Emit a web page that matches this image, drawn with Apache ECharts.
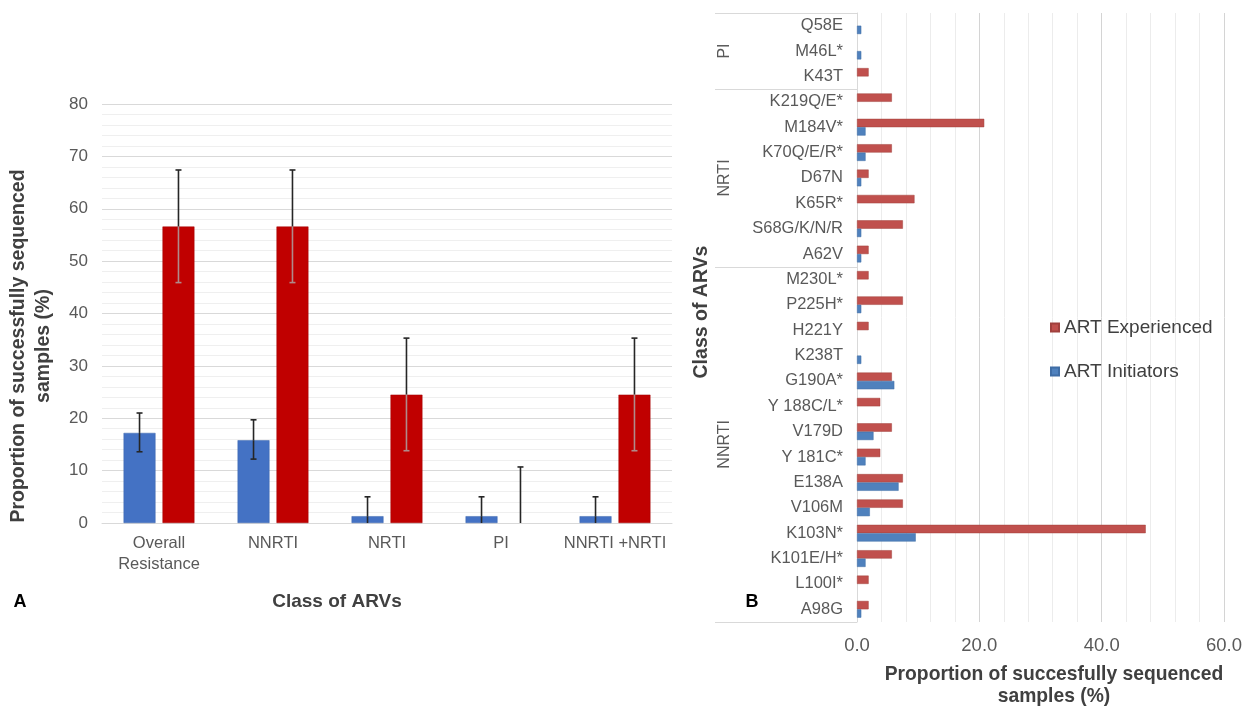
<!DOCTYPE html>
<html>
<head>
<meta charset="utf-8">
<script src="https://cdn.jsdelivr.net/npm/echarts@6/dist/echarts.min.js"></script>
<style>
html, body { margin: 0; padding: 0; background: #fff; }
#chart { width: 1250px; height: 706px; }
</style>
</head>
<body>
<div id="chart"></div>
<script>
// ---- panel A: resistance by drug class ----
const classes = ['Overall\nResistance', 'NNRTI', 'NRTI', 'PI', 'NNRTI +NRTI'];
const initiatorsA = [17.2, 15.8, 1.3, 1.3, 1.3];
const initiatorsLow = [13.6, 12.2, 0, 0, 0];
const initiatorsHigh = [21.0, 19.7, 5.0, 5.0, 5.0];
const experiencedA = [56.6, 56.6, 24.5, 0, 24.5];
const experiencedLow = [45.9, 45.9, 13.8, 0, 13.8];
const experiencedHigh = [67.4, 67.4, 35.3, 10.7, 35.3];

// ---- panel B: individual mutations (top to bottom) ----
const mutations = ['Q58E', 'M46L*', 'K43T', 'K219Q/E*', 'M184V*', 'K70Q/E/R*', 'D67N', 'K65R*',
  'S68G/K/N/R', 'A62V', 'M230L*', 'P225H*', 'H221Y', 'K238T', 'G190A*', 'Y 188C/L*', 'V179D',
  'Y 181C*', 'E138A', 'V106M', 'K103N*', 'K101E/H*', 'L100I*', 'A98G'];
const experiencedB = [0, 0, 1.9, 5.7, 20.8, 5.7, 1.9, 9.4, 7.5, 1.9, 1.9, 7.5, 1.9, 0, 5.7, 3.8,
  5.7, 3.8, 7.5, 7.5, 47.2, 5.7, 1.9, 1.9];
const initiatorsB = [0.7, 0.7, 0, 0, 1.4, 1.4, 0.7, 0, 0.7, 0.7, 0, 0.7, 0, 0.7, 6.1, 0,
  2.7, 1.4, 6.8, 2.1, 9.6, 1.4, 0, 0.7];
const groups = [['PI', 0, 2], ['NRTI', 3, 9], ['NNRTI', 10, 23]];

const FONT = '"Liberation Sans", Arial, sans-serif';
const BAR_W = 0.28, BAR_GAP = 0.22;

// zero bars are left out so they leave no sliver
const noZero = arr => arr.map(v => (v === 0 ? '-' : v));

const chart = echarts.init(document.getElementById('chart'));

// error bars drawn on top of the panel A bars
function errorBars(vals, low, high, side, lowColor) {
  return {
    type: 'custom',
    xAxisIndex: 0,
    yAxisIndex: 0,
    silent: true,
    z: 5,
    encode: { x: 0, y: [1, 2, 3] },
    data: vals.map((v, i) => [i, low[i], high[i], v]),
    renderItem: function (params, api) {
      const band = api.size([1, 0])[0];
      const off = side * band * BAR_W * (1 + BAR_GAP) / 2;
      const mid = api.coord([api.value(0), api.value(3)]);
      const x = mid[0] + off;
      const yHi = api.coord([api.value(0), api.value(2)])[1];
      const yLo = api.coord([api.value(0), api.value(1)])[1];
      const dark = { stroke: '#262626', lineWidth: 1.6 };
      const light = { stroke: lowColor, lineWidth: 1.6 };
      const kids = [
        { type: 'line', shape: { x1: x, y1: mid[1], x2: x, y2: yHi }, style: dark },
        { type: 'line', shape: { x1: x - 3, y1: yHi, x2: x + 3, y2: yHi }, style: dark }
      ];
      if (api.value(1) < api.value(3)) {
        kids.push({ type: 'line', shape: { x1: x, y1: mid[1], x2: x, y2: yLo }, style: light });
        if (api.value(1) > 0) {
          kids.push({ type: 'line', shape: { x1: x - 3, y1: yLo, x2: x + 3, y2: yLo }, style: light });
        }
      }
      return { type: 'group', children: kids };
    }
  };
}

const option = {
  animation: false,
  backgroundColor: '#fff',
  textStyle: { fontFamily: FONT },
  legend: {
    data: ['ART Experienced', 'ART Initiators'],
    orient: 'vertical',
    left: 1045,
    top: 313,
    itemGap: 25,
    itemWidth: 8,
    itemHeight: 8,
    icon: 'rect',
    textStyle: { fontSize: 19, color: '#404040', fontFamily: FONT }
  },
  grid: [
    { left: 102, top: 104, width: 570, height: 419, outerBoundsMode: 'none' },
    { left: 857, top: 13, width: 367, height: 609, outerBoundsMode: 'none' }
  ],
  xAxis: [
    {
      gridIndex: 0,
      type: 'category',
      data: classes,
      axisLine: { lineStyle: { color: '#d9d9d9' } },
      axisTick: { show: false },
      axisLabel: { color: '#595959', fontSize: 16.5, lineHeight: 21, margin: 10, interval: 0 }
    },
    {
      gridIndex: 1,
      type: 'value',
      min: 0,
      max: 60,
      interval: 20,
      axisLine: { show: false },
      axisTick: { show: false },
      axisLabel: { color: '#595959', fontSize: 18.5, margin: 14, formatter: v => v.toFixed(1) },
      splitLine: { lineStyle: { color: '#d4d4d4' } },
      minorTick: { show: false, splitNumber: 5 },
      minorSplitLine: { show: true, lineStyle: { color: '#ececec' } }
    }
  ],
  yAxis: [
    {
      gridIndex: 0,
      type: 'value',
      min: 0,
      max: 80,
      interval: 10,
      axisLine: { show: false },
      axisTick: { show: false },
      axisLabel: { color: '#595959', fontSize: 17, margin: 14 },
      splitLine: { lineStyle: { color: '#d9d9d9' } },
      minorTick: { show: false, splitNumber: 5 },
      minorSplitLine: { show: true, lineStyle: { color: '#efefef' } }
    },
    {
      gridIndex: 1,
      type: 'category',
      inverse: true,
      data: mutations,
      axisLine: { lineStyle: { color: '#d9d9d9' } },
      axisTick: { show: false },
      axisLabel: { color: '#595959', fontSize: 16.5, margin: 14, interval: 0 }
    }
  ],
  series: [
    {
      name: 'A Initiators', type: 'bar', xAxisIndex: 0, yAxisIndex: 0,
      data: noZero(initiatorsA), barWidth: BAR_W * 100 + '%', barGap: BAR_GAP * 100 + '%',
      itemStyle: { color: '#4472c4', borderColor: '#3a64ad', borderWidth: 0.5 }
    },
    {
      name: 'A Experienced', type: 'bar', xAxisIndex: 0, yAxisIndex: 0,
      data: noZero(experiencedA), barWidth: BAR_W * 100 + '%', barGap: BAR_GAP * 100 + '%',
      itemStyle: { color: '#c00000', borderColor: '#a00000', borderWidth: 0.5 }
    },
    errorBars(initiatorsA, initiatorsLow, initiatorsHigh, -1, '#262626'),
    errorBars(experiencedA, experiencedLow, experiencedHigh, 1, '#b08a8a'),
    {
      name: 'ART Experienced', type: 'bar', xAxisIndex: 1, yAxisIndex: 1,
      data: noZero(experiencedB), barWidth: '33%', barGap: '0%',
      itemStyle: { color: '#c0504d', borderColor: '#a0403d', borderWidth: 0.5 }
    },
    {
      name: 'ART Initiators', type: 'bar', xAxisIndex: 1, yAxisIndex: 1,
      data: noZero(initiatorsB), barWidth: '33%', barGap: '0%',
      itemStyle: { color: '#4f81bd', borderColor: '#3f6da5', borderWidth: 0.5 }
    }
  ]
};

chart.setOption(option);

// titles, panel letters, group brackets and group labels
const title = size => 'bold ' + size + 'px ' + FONT;
const c0 = chart.convertToPixel({ yAxisIndex: 1 }, 0);
const band = Math.abs(chart.convertToPixel({ yAxisIndex: 1 }, 1) - c0);
const axisX = chart.convertToPixel({ xAxisIndex: 1 }, 0);
const graphics = [
  { type: 'text', x: 20, y: 602, style: { text: 'A', font: title(18), fill: '#000', align: 'center', verticalAlign: 'middle' } },
  { type: 'text', x: 752, y: 602, style: { text: 'B', font: title(18), fill: '#000', align: 'center', verticalAlign: 'middle' } },
  {
    type: 'text', x: 31, y: 346, rotation: Math.PI / 2,
    style: { text: 'Proportion of successfully sequenced\nsamples (%)', font: title(19.5), lineHeight: 25,
      fill: '#404040', align: 'center', verticalAlign: 'middle' }
  },
  { type: 'text', x: 337, y: 602, style: { text: 'Class of ARVs', font: title(19), fill: '#404040', align: 'center', verticalAlign: 'middle' } },
  {
    type: 'text', x: 702, y: 312, rotation: Math.PI / 2,
    style: { text: 'Class of ARVs', font: title(19.5), fill: '#404040', align: 'center', verticalAlign: 'middle' }
  },
  {
    type: 'text', x: 1054, y: 686,
    style: { text: 'Proportion of succesfully sequenced\nsamples (%)', font: title(19.3), lineHeight: 22,
      fill: '#404040', align: 'center', verticalAlign: 'middle' }
  }
];
const cuts = new Set();
groups.forEach(g => {
  const yStart = chart.convertToPixel({ yAxisIndex: 1 }, g[1]) - band / 2;
  const yEnd = chart.convertToPixel({ yAxisIndex: 1 }, g[2]) + band / 2;
  cuts.add(Math.round(yStart));
  cuts.add(Math.round(yEnd));
  graphics.push({
    type: 'text',
    x: 725, y: (yStart + yEnd) / 2,
    rotation: Math.PI / 2,
    style: { text: g[0], font: '16px ' + FONT, fill: '#595959', align: 'center', verticalAlign: 'middle' }
  });
});
cuts.forEach(y => {
  graphics.push({
    type: 'line',
    shape: { x1: 715, y1: y + 0.5, x2: axisX, y2: y + 0.5 },
    style: { stroke: '#d9d9d9', lineWidth: 1 }
  });
});
chart.setOption({ graphic: graphics });
</script>
</body>
</html>
